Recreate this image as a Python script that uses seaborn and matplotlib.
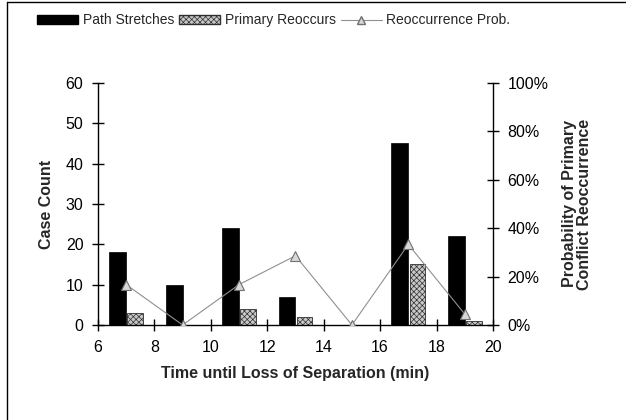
import numpy as np
import matplotlib
matplotlib.use('Agg')
import matplotlib.pyplot as plt
from matplotlib.lines import Line2D
from matplotlib.patches import Patch
from matplotlib.ticker import FuncFormatter
import seaborn as sns

# ─── Data ────────────────────────────────────────────────────────────────────
time_min        = [7, 9, 11, 13, 15, 17, 19]
path_stretches  = [18, 10, 24, 7, 0, 45, 22]
primary_reoccur = [3, 0, 4, 2, 0, 15, 1]
reoccur_prob    = [0.167, 0.0, 0.167, 0.286, 0.0, 0.333, 0.045]

x_ticks  = [6, 8, 10, 12, 14, 16, 18, 20]
y_ticks  = [0, 10, 20, 30, 40, 50, 60]
y2_ticks = [0, 0.2, 0.4, 0.6, 0.8, 1.0]

# ─── Style ───────────────────────────────────────────────────────────────────
sns.set_style("ticks")
plt.rcParams['font.family'] = ['Liberation Sans', 'DejaVu Sans']
plt.rcParams['hatch.linewidth'] = 0.5

fig = plt.figure(figsize=(6.26, 4.2), dpi=100)
ax = fig.add_axes([0.1565, 0.2262, 0.631, 0.5762])
ax2 = ax.twinx()

xs = np.array(time_min, dtype=float)
ax.bar(xs - 0.30, path_stretches, width=0.60, color="black", edgecolor="black", linewidth=0.5)
ax.bar(xs + 0.32, primary_reoccur, width=0.55, color="#c8c8c8", edgecolor="#303030",
       hatch="xxxxxx", linewidth=0.6)

sns.lineplot(x=time_min, y=reoccur_prob, ax=ax2, color="#909090", linewidth=0.8,
             marker="^", markersize=7, markerfacecolor="#d8d8d8",
             markeredgecolor="#707070", markeredgewidth=0.8)

ax.set_xlim(6, 20)
ax.set_ylim(0, 60)
ax2.set_ylim(0, 1.0)
ax.set_xticks(x_ticks)
ax.set_yticks(y_ticks)
ax2.set_yticks(y2_ticks)
ax2.yaxis.set_major_formatter(FuncFormatter(lambda v, p: f"{v*100:.0f}%"))

for a in (ax, ax2):
    a.tick_params(direction="inout", length=9, width=1, labelsize=11.5, pad=6, colors="black")
    for s in a.spines.values():
        s.set_color("black")
        s.set_linewidth(1)
    a.spines["top"].set_visible(False)
ax.spines["right"].set_visible(False)
ax2.spines["left"].set_visible(False)
ax2.spines["bottom"].set_visible(False)

lab_font = dict(fontsize=11.5, fontweight="bold")
ax.set_xlabel("Time until Loss of Separation (min)", labelpad=8, **lab_font)
ax.set_ylabel("Case Count", labelpad=8, **lab_font)
ax2.set_ylabel("Probability of Primary\nConflict Reoccurrence", labelpad=10,
               linespacing=1.0, **lab_font)

# ─── Legend ──────────────────────────────────────────────────────────────────
handles = [
    Patch(facecolor="black", edgecolor="black"),
    Patch(facecolor="#c8c8c8", edgecolor="#303030", hatch="xxxxxx"),
    Line2D([], [], color="#909090", linewidth=0.8, marker="^", markersize=6,
           markerfacecolor="#d8d8d8", markeredgecolor="#707070"),
]
labels = ["Path Stretches", "Primary Reoccurs", "Reoccurrence Prob."]
fig.legend(handles, labels, loc="center", bbox_to_anchor=(0.437, 0.952), ncol=3,
           frameon=False, fontsize=10, handlelength=3.0, handleheight=0.6,
           handletextpad=0.3, columnspacing=0.35)

# outer frame (only left and top edges visible in the reference)
fig.add_artist(Line2D([0.011, 0.011], [0.0, 0.995], color="black", linewidth=1))
fig.add_artist(Line2D([0.011, 1.0], [0.995, 0.995], color="black", linewidth=1))

fig.savefig("out.png", dpi=100)
